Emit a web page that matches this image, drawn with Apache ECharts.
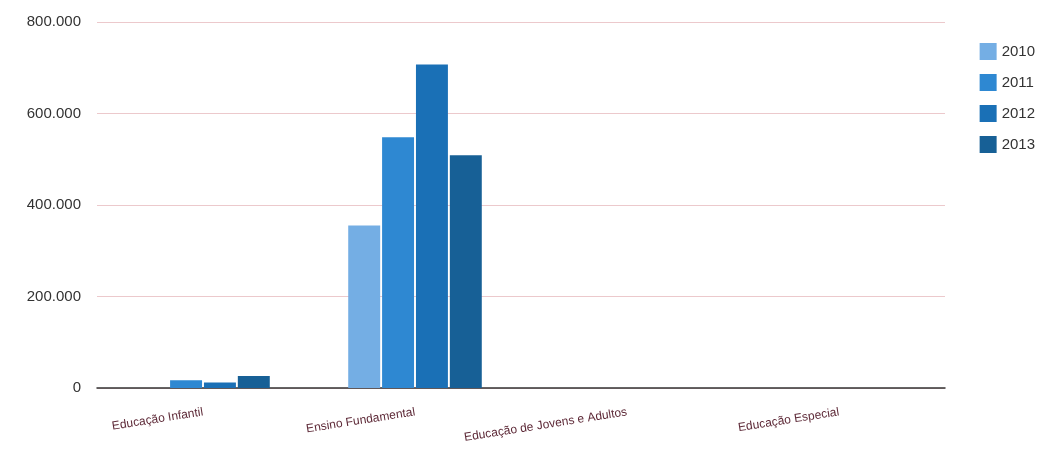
<!DOCTYPE html>
<html>
<head>
<meta charset="utf-8">
<script src="https://cdn.jsdelivr.net/npm/echarts@6/dist/echarts.min.js"></script>
<style>
  html, body { margin: 0; padding: 0; background: #fff; }
  #main { width: 1048px; height: 470px; }
</style>
</head>
<body>
<div id="main"></div>
<script>
var categorias = ['Educação Infantil', 'Ensino Fundamental', 'Educação de Jovens e Adultos', 'Educação Especial'];
var anos = ['2010', '2011', '2012', '2013'];
var v2010 = [0, 355000, 0, 0];
var v2011 = [17000, 548000, 0, 0];
var v2012 = [12000, 707000, 0, 0];
var v2013 = [26000, 509000, 0, 0];
var cores = ['#74aee4', '#2e88d2', '#1a70b6', '#176096'];

function fmt(v) {
    if (v === 0) return '0';
    var s = String(v);
    return s.replace(/\B(?=(\d{3})+(?!\d))/g, '.');
}

var valores = [v2010, v2011, v2012, v2013];
var series = [];
for (var i = 0; i < anos.length; i++) {
    series.push({
        name: anos[i],
        type: 'bar',
        data: valores[i],
        barGap: '6%',
        barCategoryGap: '37%',
        itemStyle: { color: cores[i] }
    });
}

var chart = echarts.init(document.getElementById('main'));
chart.setOption({
    animation: false,
    color: cores,
    legend: {
        orient: 'vertical',
        right: 8,
        top: 38,
        itemWidth: 17,
        itemHeight: 17,
        itemGap: 14,
        icon: 'rect',
        textStyle: { fontSize: 15, color: '#333', fontFamily: 'Liberation Sans' },
        data: anos
    },
    grid: {
        left: 97,
        right: 103,
        top: 22,
        bottom: 82
    },
    xAxis: {
        type: 'category',
        data: categorias,
        axisTick: { show: false },
        axisLine: { lineStyle: { color: '#333', width: 1.5 } },
        axisLabel: {
            rotate: 9,
            interval: 0,
            margin: 24,
            fontSize: 12,
            color: '#5e2a38',
            fontFamily: 'Liberation Sans'
        }
    },
    yAxis: {
        type: 'value',
        min: 0,
        max: 800000,
        interval: 200000,
        axisLine: { show: false },
        axisTick: { show: false },
        axisLabel: {
            formatter: fmt,
            fontSize: 15,
            color: '#333',
            margin: 16,
            fontFamily: 'Liberation Sans'
        },
        splitLine: { lineStyle: { color: '#ecc9cc', width: 1 } }
    },
    series: series
});
</script>
</body>
</html>
